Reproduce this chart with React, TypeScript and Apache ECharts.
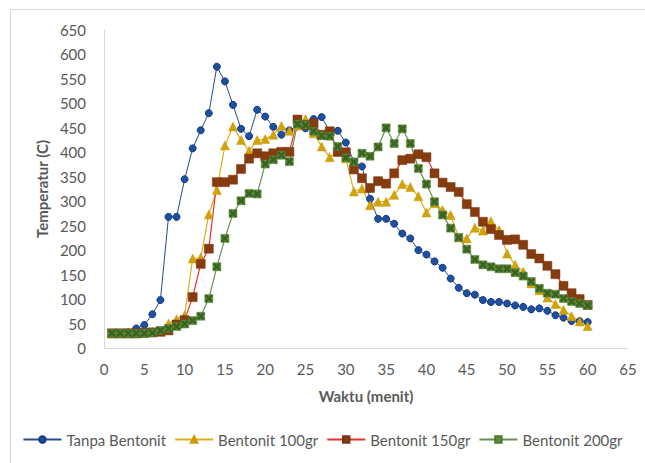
import React, { useEffect, useRef } from "react";
import * as echarts from "echarts";

const minutes = Array.from({ length: 60 }, (_, i) => i + 1);

const tanpaBentonit = [
  30, 30, 32, 40, 47, 69, 98, 268, 268, 345,
  408, 445, 480, 575, 545, 497, 448, 433, 487, 473,
  452, 436, 445, 453, 449, 468, 472, 443, 444, 420,
  381, 371, 305, 264, 264, 254, 234, 224, 200, 191,
  177, 164, 142, 123, 112, 109, 98, 94, 94, 91,
  87, 84, 79, 81, 76, 67, 62, 55, 55, 53,
];

const bentonit100 = [
  30, 30, 30, 30, 32, 33, 35, 50, 59, 67,
  183, 185, 273, 323, 414, 453, 425, 403, 425, 427,
  436, 454, 444, 455, 468, 439, 412, 390, 401, 388,
  320, 326, 292, 299, 299, 313, 335, 329, 310, 277,
  296, 282, 272, 226, 224, 246, 240, 259, 241, 193,
  170, 156, 132, 118, 103, 90, 78, 65, 54, 45,
];

const bentonit150 = [
  30, 30, 30, 30, 31, 32, 33, 36, 48, 57,
  104, 172, 203, 339, 339, 344, 366, 387, 398, 392,
  398, 401, 401, 467, 456, 459, 436, 443, 401, 400,
  365, 347, 327, 341, 336, 357, 384, 387, 396, 390,
  357, 338, 329, 319, 294, 278, 258, 243, 231, 221,
  222, 211, 192, 183, 168, 151, 127, 112, 100, 88,
];

const bentonit200 = [
  30, 30, 30, 30, 30, 31, 36, 40, 44, 49,
  56, 65, 101, 166, 224, 275, 301, 316, 315, 376,
  385, 394, 381, 458, 456, 443, 434, 433, 412, 389,
  380, 398, 392, 411, 450, 418, 448, 418, 367, 335,
  299, 272, 245, 226, 202, 181, 170, 166, 162, 162,
  154, 147, 136, 122, 112, 110, 101, 95, 91, 87,
];

const seriesNames = ["Tanpa Bentonit", "Bentonit 100gr", "Bentonit 150gr", "Bentonit 200gr"];

const FONT = "Lato, 'Open Sans', sans-serif";
const TXT = "#595959";
const X_PATH =
  "path://M0,0 L2.5,0 L5,2.5 L7.5,0 L10,0 L10,2.5 L7.5,5 L10,7.5 L10,10 L7.5,10 L5,7.5 L2.5,10 L0,10 L0,7.5 L2.5,5 L0,2.5 Z";

const pairs = (vals: number[]) => minutes.map((m, i) => [m, vals[i]]);

export default function App() {
  const ref = useRef<HTMLDivElement>(null);
  useEffect(() => {
    if (!ref.current) return;
    const chart = echarts.init(ref.current, null, { renderer: "svg" });
    chart.setOption({
      animation: false,
      backgroundColor: "#ffffff",
      textStyle: { fontFamily: FONT },
      graphic: [
        {
          type: "rect",
          shape: { x: 10.5, y: 9.5, width: 700, height: 520 },
          style: { fill: "none", stroke: "#d9d9d9", lineWidth: 1 },
          silent: true,
        },
      ],
      grid: { left: 104, right: 17, top: 30, bottom: 115 },
      legend: {
        data: seriesNames,
        top: 427,
        left: "center",
        itemWidth: 38,
        itemHeight: 8,
        itemGap: 8,
        textStyle: { color: TXT, fontSize: 15, fontFamily: FONT },
      },
      xAxis: {
        type: "value",
        min: 0,
        max: 65,
        interval: 5,
        name: "Waktu (menit)",
        nameLocation: "middle",
        nameGap: 40,
        nameTextStyle: { color: TXT, fontWeight: "bold", fontSize: 15, fontFamily: FONT },
        axisLine: { show: true, lineStyle: { color: "#d9d9d9" } },
        axisTick: { show: false },
        axisLabel: { color: TXT, fontSize: 15, margin: 13, fontFamily: FONT },
        splitLine: { show: false },
      },
      yAxis: {
        type: "value",
        min: 0,
        max: 650,
        interval: 50,
        name: "Temperatur (C)",
        nameLocation: "middle",
        nameGap: 51,
        nameTextStyle: { color: TXT, fontWeight: "bold", fontSize: 15, fontFamily: FONT },
        axisLine: { show: true, lineStyle: { color: "#d9d9d9" } },
        axisTick: { show: false },
        axisLabel: { color: TXT, fontSize: 15, margin: 18, fontFamily: FONT },
        splitLine: { show: false },
      },
      series: [
        {
          name: seriesNames[0],
          type: "line",
          data: pairs(tanpaBentonit),
          symbol: "circle",
          symbolSize: 7,
          lineStyle: { color: "#2a4a8c", width: 1 },
          itemStyle: { color: "#1f4fa0", borderColor: "#123a80", borderWidth: 1 },
        },
        {
          name: seriesNames[1],
          type: "line",
          data: pairs(bentonit100),
          symbol: "triangle",
          symbolSize: 9,
          lineStyle: { color: "#dcae1c", width: 1.2 },
          itemStyle: { color: "#d1a20a", borderColor: "#c99a08", borderWidth: 0.5 },
        },
        {
          name: seriesNames[2],
          type: "line",
          data: pairs(bentonit150),
          symbol: "rect",
          symbolSize: 9,
          lineStyle: { color: "#e8312a", width: 1.2 },
          itemStyle: { color: "#873c10", borderColor: "#7a3510", borderWidth: 0.5 },
        },
        {
          name: seriesNames[3],
          type: "line",
          data: pairs(bentonit200),
          symbol: "rect",
          symbolSize: 8,
          lineStyle: { color: "#6a8f4e", width: 1.2 },
          itemStyle: { color: "#5f8c3c", borderColor: "#4b7a2a", borderWidth: 0.5 },
        },
        {
          name: "x-marker-200",
          type: "line",
          data: pairs(bentonit200),
          symbol: X_PATH,
          symbolSize: 7,
          lineStyle: { opacity: 0, width: 0 },
          itemStyle: { color: "#3a6220" },
          silent: true,
        },
      ],
    });
    return () => chart.dispose();
  }, []);
  return (
    <div
      ref={ref}
      style={{ position: "fixed", left: 0, top: 0, width: 645, height: 463 }}
    />
  );
}
